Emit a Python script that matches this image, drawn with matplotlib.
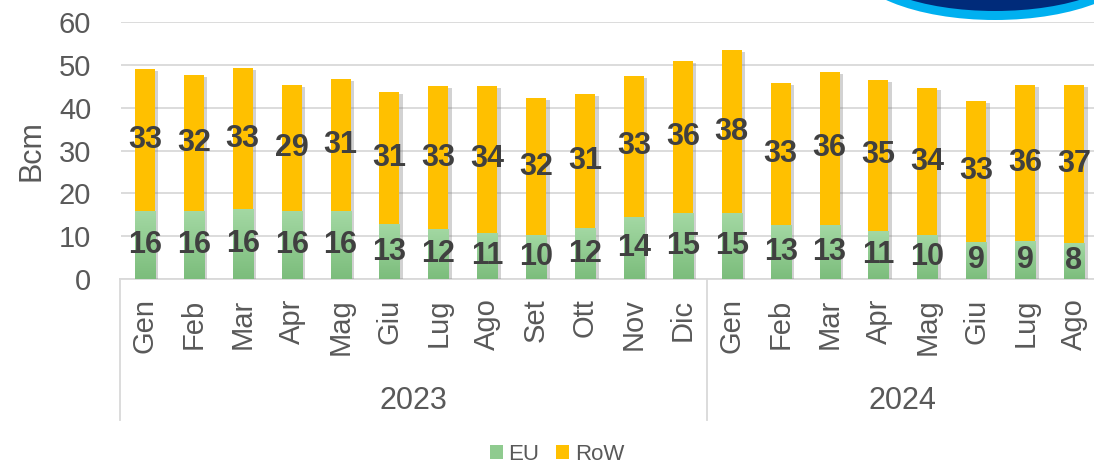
import numpy as np
import matplotlib
matplotlib.use("Agg")
import matplotlib.pyplot as plt
from matplotlib.colors import LinearSegmentedColormap
from matplotlib.patches import Ellipse, Patch
import matplotlib.patheffects as pe
import matplotlib.transforms as mtransforms

plt.rcParams['font.family'] = ['Liberation Sans', 'DejaVu Sans']

# ---- data ----
months = ["Gen", "Feb", "Mar", "Apr", "Mag", "Giu", "Lug", "Ago", "Set", "Ott", "Nov", "Dic",
          "Gen", "Feb", "Mar", "Apr", "Mag", "Giu", "Lug", "Ago"]
years = ["2023", "2024"]
year_counts = [12, 8]
eu = [15.9, 15.8, 16.3, 15.9, 15.8, 12.8, 11.7, 10.8, 10.3, 11.8, 14.4, 15.3,
      15.3, 12.6, 12.6, 11.2, 10.2, 8.7, 8.9, 8.4]
row = [33.2, 31.9, 32.9, 29.4, 31.0, 30.9, 33.3, 34.2, 31.9, 31.4, 33.1, 35.7,
       38.2, 33.2, 35.8, 35.3, 34.4, 32.9, 36.4, 37.0]
series_names = ["EU", "RoW"]

# ---- style ----
ROW_COLOR = "#FFC000"
EU_TOP = "#A3D8A3"
EU_BOT = "#7CBD7C"
EU_MID = "#8FCB8F"
GRID = "#D9D9D9"
TXT = "#595959"
LBL = "#404040"

fig = plt.figure(figsize=(10.94, 4.65), dpi=100)
ax = fig.add_axes([120.5 / 1094, 1 - 279 / 465, 978 / 1094, 257 / 465])

x = np.arange(len(months))
w = 0.41
shadow = [pe.SimplePatchShadow(offset=(2.5, -1.5), shadow_rgbFace="#808080", alpha=0.35), pe.Normal()]

eu_bars = ax.bar(x, eu, w, color=EU_MID, zorder=3, path_effects=shadow)
row_bars = ax.bar(x, row, w, bottom=eu, color=ROW_COLOR, zorder=3, path_effects=shadow)

# gradient fill for EU bars
cmap = LinearSegmentedColormap.from_list("eu", [EU_BOT, EU_TOP])
grad = np.linspace(0, 1, 64).reshape(-1, 1)
for b in eu_bars:
    im = ax.imshow(grad, extent=(b.get_x(), b.get_x() + b.get_width(), 0, b.get_height()),
                   origin="lower", aspect="auto", cmap=cmap, zorder=3.5)
    im.set_clip_path(b)

# data labels
for i in range(len(months)):
    ax.text(x[i], eu[i] / 2, f"{eu[i]:.0f}", ha="center", va="center",
            fontsize=22, fontweight="bold", color=LBL, zorder=5)
    ax.text(x[i], eu[i] + row[i] / 2, f"{row[i]:.0f}", ha="center", va="center",
            fontsize=22, fontweight="bold", color=LBL, zorder=5)

ax.set_xlim(-0.5, len(months) - 0.5)
ax.set_ylim(0, 60)
ax.set_yticks(np.arange(0, 61, 10))
ax.yaxis.grid(True, color=GRID, linewidth=1.3, zorder=0)
ax.set_axisbelow(True)
for s in ["top", "right", "left"]:
    ax.spines[s].set_visible(False)
ax.spines["bottom"].set_color(GRID)
ax.spines["bottom"].set_linewidth(1.3)

ax.tick_params(axis="y", length=0, pad=21, labelsize=21, labelcolor=TXT)
ax.set_xticks(x)
ax.set_xticklabels(months, rotation=90, fontsize=21, color=TXT)
ax.tick_params(axis="x", length=0, pad=14)
ax.set_ylabel("Bcm", fontsize=22, color=TXT, va="center")
ax.yaxis.set_label_coords(-88.5 / 978, 0.5)

# year grouping
trans = mtransforms.blended_transform_factory(ax.transData, ax.transAxes)
bottom_y = (279 - 420) / 257
bounds = np.concatenate([[0], np.cumsum(year_counts)]) - 0.5
for bx in bounds:
    ax.plot([bx, bx], [0, bottom_y], transform=trans, color=GRID, lw=1.3, clip_on=False)
for k, yr in enumerate(years):
    cx = (bounds[k] + bounds[k + 1]) / 2
    ax.text(cx, (279 - 401) / 257, yr, transform=trans, ha="center", va="center",
            fontsize=22, color=TXT)

# legend
handles = [Patch(facecolor=EU_MID, label=series_names[0]), Patch(facecolor=ROW_COLOR, label=series_names[1])]
leg = fig.legend(handles=handles, loc="center", bbox_to_anchor=(557 / 1094, 1 - 454 / 465),
                 ncol=2, frameon=False, fontsize=16, handlelength=0.6, handleheight=0.6,
                 handletextpad=0.25, columnspacing=0.75, labelcolor=TXT)

# logo fragment at top right
fig.patches.append(Ellipse((995 / 1094, 1 + 40 / 465), 292 / 1094, 120 / 465,
                           transform=fig.transFigure, facecolor="#00B0F0", edgecolor="none", zorder=10))
fig.patches.append(Ellipse((995 / 1094, 1 + 40 / 465), 272 / 1094, 102 / 465,
                           transform=fig.transFigure, facecolor="#002B7A", edgecolor="none", zorder=11))

fig.savefig("out.png", dpi=100)
